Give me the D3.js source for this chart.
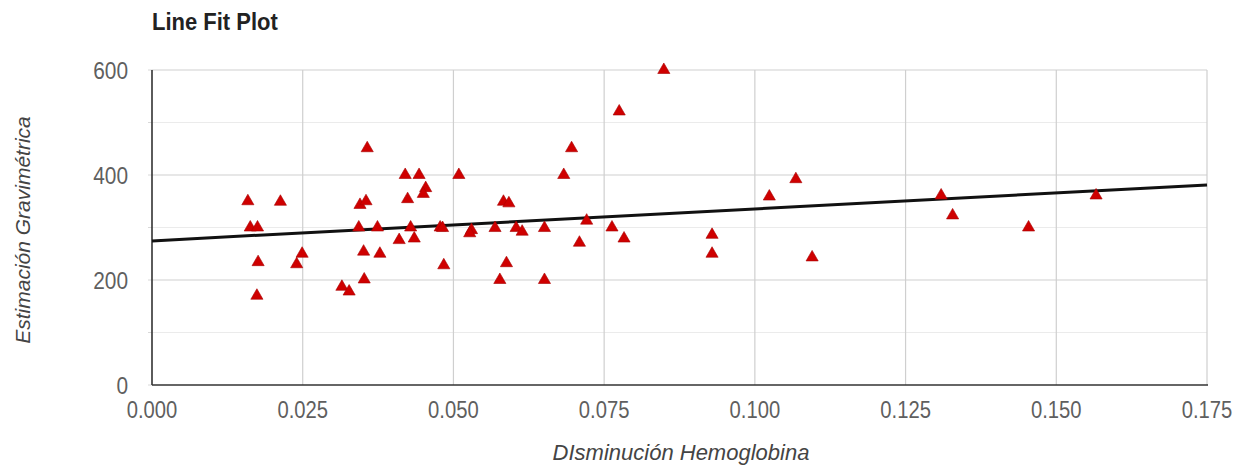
<!DOCTYPE html>
<html>
<head>
<meta charset="utf-8">
<script src="https://cdn.jsdelivr.net/npm/d3@7"></script>
<style>
  html, body { margin: 0; padding: 0; background: #fff; }
  svg { display: block; font-family: "Liberation Sans", Arial, sans-serif; }
</style>
</head>
<body>
<svg id="chart" width="1240" height="466"></svg>
<script>
// Observations: hemoglobin decrease (x) vs gravimetric estimate (y)
const hemoglobinDrop = [
  0.0159, 0.0163, 0.0175, 0.0176, 0.0174, 0.0213, 0.0249, 0.0240, 0.0315, 0.0327,
  0.0352, 0.0351, 0.0378, 0.0357, 0.0345, 0.0355, 0.0343, 0.0374, 0.0420, 0.0443,
  0.0424, 0.0454, 0.0450, 0.0429, 0.0410, 0.0435, 0.0478, 0.0482, 0.0484, 0.0509,
  0.0530, 0.0527, 0.0569, 0.0583, 0.0592, 0.0588, 0.0577, 0.0604, 0.0614, 0.0651,
  0.0651, 0.0683, 0.0696, 0.0721, 0.0709, 0.0763, 0.0783, 0.0775, 0.0849, 0.0929,
  0.0929, 0.1024, 0.1068, 0.1095, 0.1309, 0.1328, 0.1454, 0.1566
];
const gravimetricEstimate = [
  350, 300, 300, 234, 170, 349, 250, 230, 187, 178,
  201, 254, 250, 451, 343, 350, 300, 300, 400, 400,
  354, 375, 364, 300, 276, 279, 300, 299, 228, 400,
  295, 289, 299, 349, 346, 232, 200, 299, 292, 299,
  200, 400, 451, 313, 271, 300, 279, 521, 600, 286,
  250, 359, 392, 243, 361, 323, 300, 361
];

// Fitted line: estimate = intercept + slope * drop
const fitIntercept = 274.5;
const fitSlope = 609;

const xTicks = [0, 0.025, 0.05, 0.075, 0.1, 0.125, 0.15, 0.175];
const yMajorTicks = [0, 200, 400, 600];
const yMinorTicks = [100, 300, 500];

const titleText = "Line Fit Plot";
const xTitle = "DIsminución Hemoglobina";
const yTitle = "Estimación Gravimétrica";

const svg = d3.select("#chart");
const plotLeft = 152, plotRight = 1207, plotTop = 70, plotBottom = 385;

const x = d3.scaleLinear().domain([0, 0.175]).range([plotLeft, plotRight]);
const y = d3.scaleLinear().domain([0, 600]).range([plotBottom, plotTop]);

// Gridlines
const grid = svg.append("g");
grid.append("g").selectAll("line").data(yMinorTicks).join("line")
  .attr("x1", plotLeft).attr("x2", plotRight)
  .attr("y1", d => y(d)).attr("y2", d => y(d))
  .attr("stroke", "#ebebeb").attr("stroke-width", 1.2);
grid.append("g").selectAll("line").data(yMajorTicks.filter(d => d > 0)).join("line")
  .attr("x1", plotLeft).attr("x2", plotRight)
  .attr("y1", d => y(d)).attr("y2", d => y(d))
  .attr("stroke", "#cfcfcf").attr("stroke-width", 1.2);
grid.append("g").selectAll("line").data(xTicks.filter(d => d > 0)).join("line")
  .attr("x1", d => x(d)).attr("x2", d => x(d))
  .attr("y1", plotTop).attr("y2", plotBottom)
  .attr("stroke", "#cfcfcf").attr("stroke-width", 1.2);

// Small tick marks left of the y axis
svg.append("g").selectAll("line").data(yMajorTicks.concat(yMinorTicks)).join("line")
  .attr("x1", plotLeft - 4).attr("x2", plotLeft)
  .attr("y1", d => y(d)).attr("y2", d => y(d))
  .attr("stroke", "#d8d8d8").attr("stroke-width", 1);

// Axis lines
svg.append("line").attr("x1", plotLeft).attr("x2", plotLeft).attr("y1", plotTop).attr("y2", plotBottom)
  .attr("stroke", "#333").attr("stroke-width", 1.6);
svg.append("line").attr("x1", plotLeft).attr("x2", plotRight + 1).attr("y1", plotBottom).attr("y2", plotBottom)
  .attr("stroke", "#333").attr("stroke-width", 1.6);

// Tick labels (slightly narrow, tall glyphs)
svg.append("g").selectAll("text").data(xTicks).join("text")
  .attr("transform", d => `translate(${x(d)},418) scale(0.92,1.08)`)
  .attr("text-anchor", "middle")
  .attr("font-size", 22).attr("fill", "#5f5f5f")
  .text(d => d3.format(".3f")(d));
svg.append("g").selectAll("text").data(yMajorTicks).join("text")
  .attr("transform", d => `translate(128,${y(d) + 8.5}) scale(0.95,1.08)`)
  .attr("text-anchor", "end")
  .attr("font-size", 22).attr("fill", "#5f5f5f")
  .text(d => d);

// Fitted line
const fitLine = d3.line().x(d => x(d)).y(d => y(fitIntercept + fitSlope * d));
svg.append("path").datum([0, 0.175])
  .attr("d", fitLine)
  .attr("fill", "none").attr("stroke", "#111").attr("stroke-width", 3);

// Observation markers
const points = hemoglobinDrop.map((v, i) => [v, gravimetricEstimate[i]]);
const tri = d3.symbol().type(d3.symbolTriangle).size(64);
svg.append("g").selectAll("path").data(points).join("path")
  .attr("transform", d => `translate(${x(d[0])},${y(d[1])})`)
  .attr("d", tri)
  .attr("fill", "#cf0000").attr("stroke", "#a80000").attr("stroke-width", 0.6);

// Titles
svg.append("text").attr("transform", "translate(152,30) scale(1,1.12)")
  .attr("font-size", 22).attr("font-weight", "bold").attr("fill", "#222")
  .text(titleText);
svg.append("text").attr("x", 681).attr("y", 460)
  .attr("text-anchor", "middle").attr("font-size", 22).attr("font-style", "italic")
  .attr("fill", "#444").text(xTitle);
svg.append("text")
  .attr("transform", "translate(30,230) rotate(-90)")
  .attr("text-anchor", "middle").attr("font-size", 21).attr("font-style", "italic")
  .attr("fill", "#444").text(yTitle);
</script>
</body>
</html>
